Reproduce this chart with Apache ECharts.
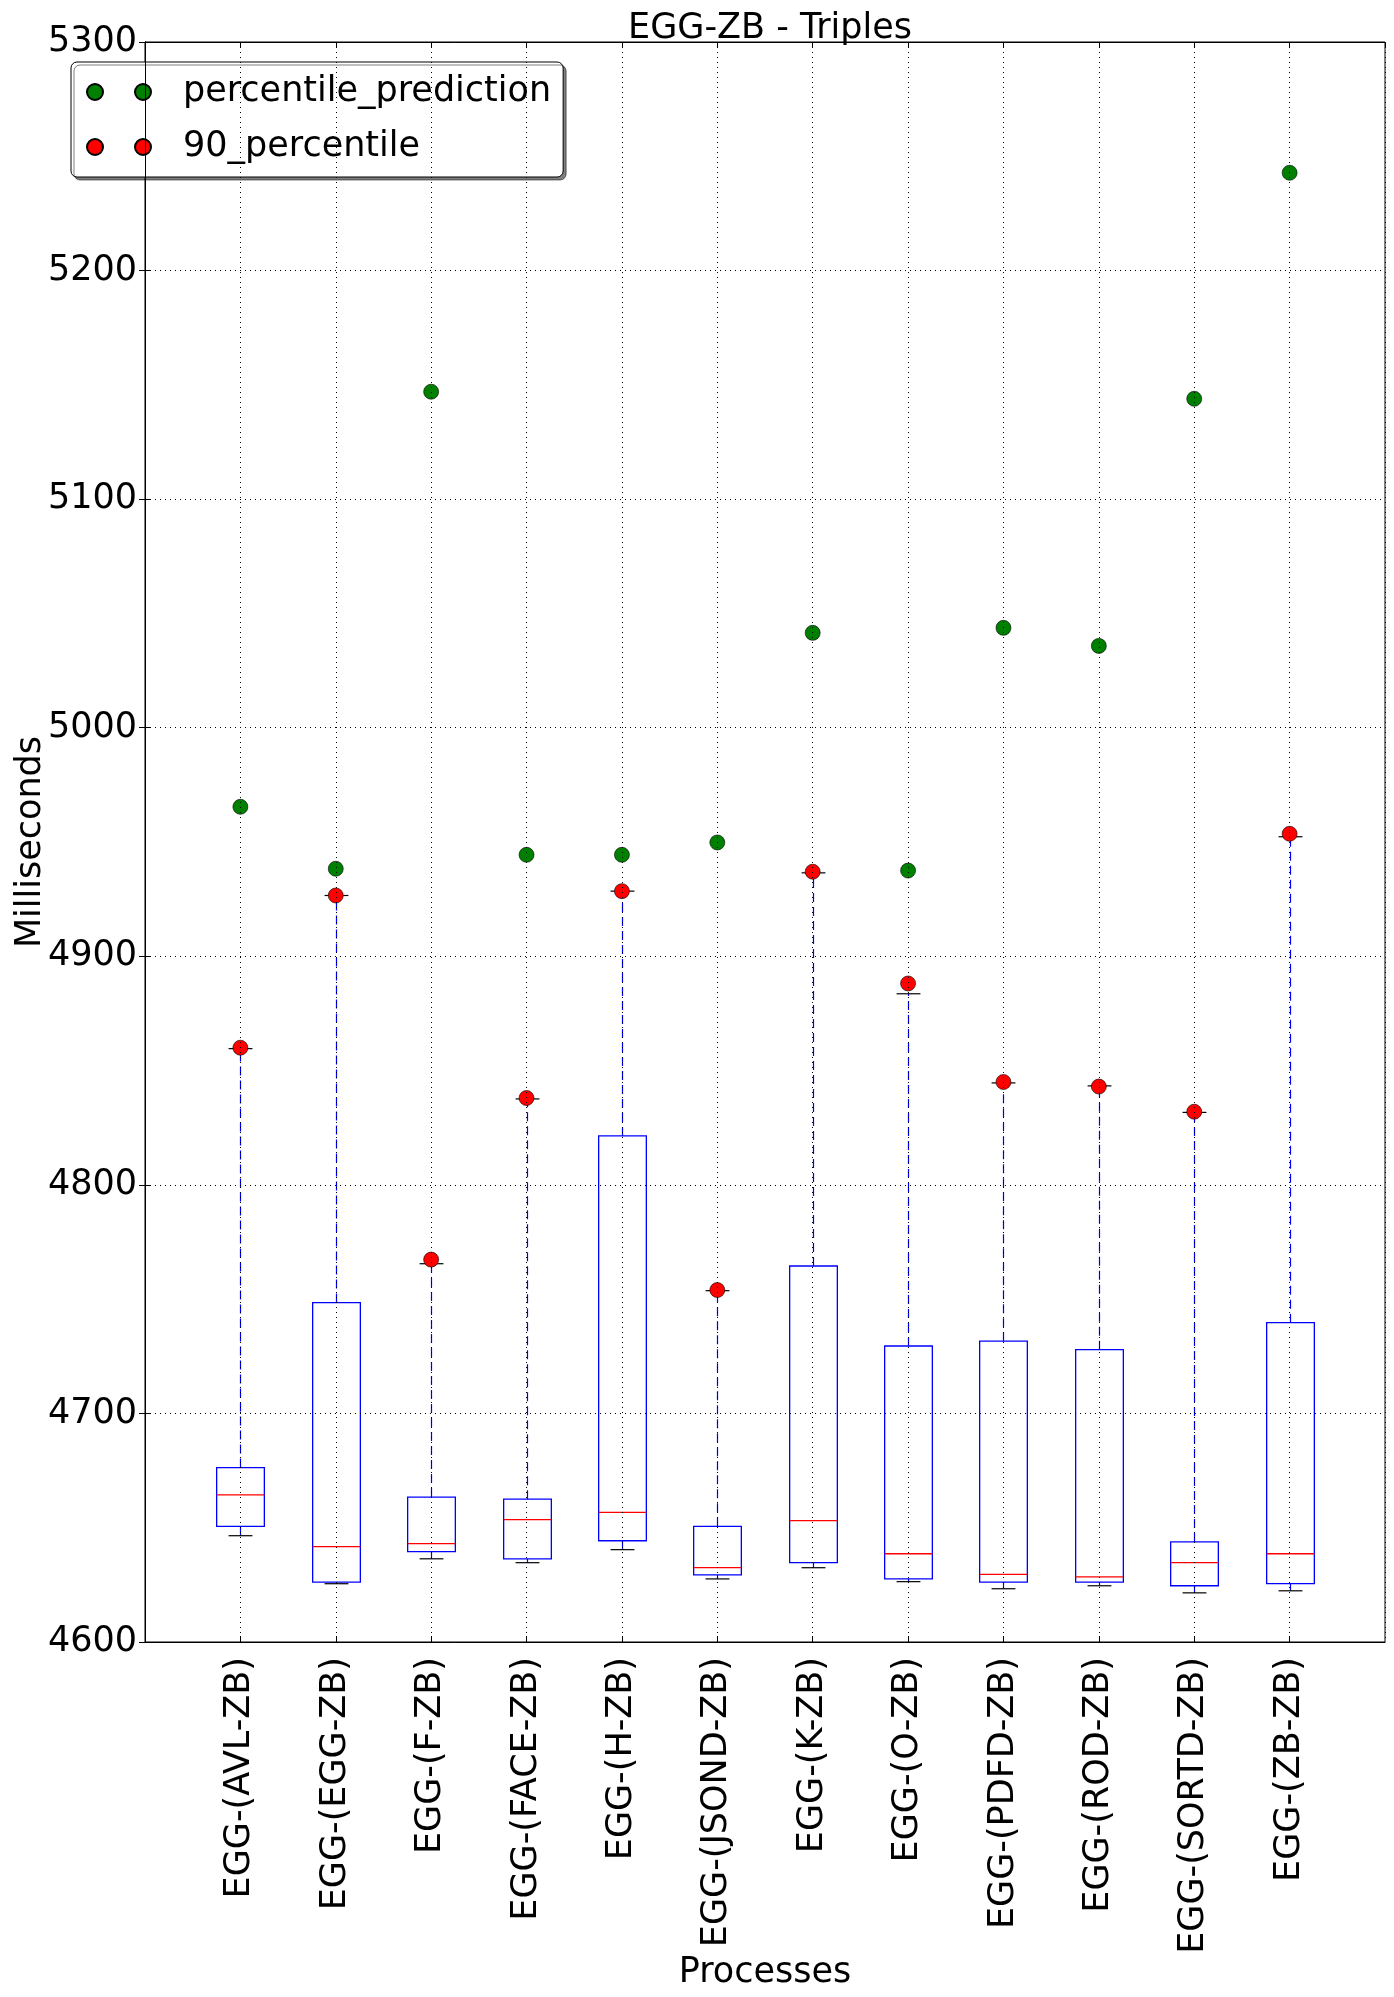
<!DOCTYPE html>
<html>
<head>
<meta charset="utf-8">
<script src="https://cdn.jsdelivr.net/npm/echarts@6/dist/echarts.min.js"></script>
<style>
html,body{margin:0;padding:0;background:#fff;}
#chart{width:1394px;height:1997px;}
</style>
</head>
<body>
<div id="chart"></div>
<script>
const categories = ['EGG-(AVL-ZB)','EGG-(EGG-ZB)','EGG-(F-ZB)','EGG-(FACE-ZB)','EGG-(H-ZB)','EGG-(JSOND-ZB)','EGG-(K-ZB)','EGG-(O-ZB)','EGG-(PDFD-ZB)','EGG-(ROD-ZB)','EGG-(SORTD-ZB)','EGG-(ZB-ZB)'];
const whiskerLow  = [4646.5, 4625.5, 4636.4, 4634.7, 4640.4, 4627.6, 4632.5, 4626.4, 4623.3, 4624.6, 4621.5, 4622.4];
const q1          = [4650.6, 4626.2, 4639.5, 4636.4, 4644.3, 4629.4, 4634.7, 4627.6, 4626.2, 4626.2, 4624.6, 4625.5];
const median      = [4664.4, 4641.7, 4643.0, 4653.5, 4656.7, 4632.5, 4653.1, 4638.6, 4629.6, 4628.5, 4634.7, 4638.6];
const q3          = [4676.3, 4748.5, 4663.4, 4662.5, 4821.4, 4650.6, 4764.5, 4729.5, 4731.6, 4727.9, 4643.8, 4739.7];
const whiskerHigh = [4859.6, 4926.6, 4765.5, 4837.6, 4928.5, 4753.7, 4936.5, 4883.6, 4844.6, 4843.3, 4831.7, 4952.3];
const percentile90 = [4860.0, 4926.6, 4767.3, 4838.0, 4928.5, 4754.0, 4937.0, 4888.1, 4845.0, 4843.0, 4832.0, 4953.6];
const prediction   = [4965.4, 4938.3, 5147.0, 4944.4, 4944.4, 4949.8, 5041.5, 4937.5, 5043.7, 5035.8, 5143.9, 5242.8];
const yTicks = {min: 4600, max: 5300, interval: 100};

const FONT = 'DejaVu Sans';
const FS = 35;
const boxData = categories.map((c, i) => [i + 1, whiskerLow[i], q1[i], median[i], q3[i], whiskerHigh[i]]);
const predData = categories.map((c, i) => [i + 1, prediction[i]]);
const p90Data = categories.map((c, i) => [i + 1, percentile90[i]]);

function renderBox(params, api) {
  const x = api.value(0);
  const lo = api.coord([x, api.value(1)]);
  const b1 = api.coord([x, api.value(2)]);
  const md = api.coord([x, api.value(3)]);
  const b3 = api.coord([x, api.value(4)]);
  const hi = api.coord([x, api.value(5)]);
  const bw = api.size([0.5, 0])[0];
  const cw = api.size([0.25, 0])[0];
  const cx = Math.round(lo[0]) + 0.5;
  const blue = '#0000ff';
  return {
    type: 'group',
    children: [
      {type: 'line', shape: {x1: cx, y1: b3[1], x2: cx, y2: hi[1]}, style: {stroke: blue, lineWidth: 1.2, lineDash: [9, 5]}},
      {type: 'line', shape: {x1: cx, y1: lo[1], x2: cx, y2: b1[1]}, style: {stroke: blue, lineWidth: 1.2, lineDash: [9, 5]}},
      {type: 'line', shape: {x1: cx - cw / 2, y1: hi[1], x2: cx + cw / 2, y2: hi[1]}, style: {stroke: '#000', lineWidth: 1.2}},
      {type: 'line', shape: {x1: cx - cw / 2, y1: lo[1], x2: cx + cw / 2, y2: lo[1]}, style: {stroke: '#000', lineWidth: 1.2}},
      {type: 'rect', shape: {x: cx - bw / 2, y: b3[1], width: bw, height: b1[1] - b3[1]}, style: {fill: 'none', stroke: blue, lineWidth: 1.3}},
      {type: 'line', shape: {x1: cx - bw / 2, y1: md[1], x2: cx + bw / 2, y2: md[1]}, style: {stroke: '#ff0000', lineWidth: 1.3}}
    ]
  };
}

const twoDots = 'path://M0,8a8,8 0 1,0 16,0a8,8 0 1,0 -16,0ZM48,8a8,8 0 1,0 16,0a8,8 0 1,0 -16,0Z';
const gridLine = {show: true, lineStyle: {color: '#000', width: 1, type: [1, 4]}};

const chart = echarts.init(document.getElementById('chart'), null, {renderer: 'canvas'});
chart.setOption({
  backgroundColor: '#fff',
  animation: false,
  textStyle: {fontFamily: FONT},
  title: {
    text: 'EGG-ZB - Triples', left: 765, textAlign: 'center', top: 6,
    textStyle: {fontFamily: FONT, fontSize: FS, fontWeight: 'normal', color: '#000'}
  },
  legend: {
    orient: 'vertical', left: 71, top: 62,
    padding: [11, 12, 11, 15], itemGap: 17,
    itemWidth: 64, itemHeight: 16,
    backgroundColor: '#fff', borderColor: '#000', borderWidth: 1, borderRadius: 6,
    shadowColor: 'rgba(0,0,0,0.5)', shadowBlur: 0, shadowOffsetX: 3, shadowOffsetY: 3,
    textStyle: {fontFamily: FONT, fontSize: FS, color: '#000', lineHeight: 38, padding: [0, 0, 0, 27]},
    data: [{name: 'percentile_prediction', icon: twoDots}, {name: '90_percentile', icon: twoDots}]
  },
  grid: {left: 145, right: 9, top: 42, bottom: 355, show: true, borderColor: '#000', borderWidth: 1, containLabel: false, outerBoundsMode: 'none'},
  xAxis: [{
    type: 'value', min: 0, max: 13, interval: 1, z: 10,
    name: 'Processes', nameLocation: 'middle', nameGap: 313, nameMoveOverlap: false,
    nameTextStyle: {fontFamily: FONT, fontSize: FS, color: '#000'},
    axisLine: {show: true, lineStyle: {color: '#000', width: 1}},
    axisTick: {show: true, inside: true, length: 6, lineStyle: {color: '#000'}},
    axisLabel: {
      rotate: 90, margin: 15, fontFamily: FONT, fontSize: FS, color: '#000',
      showMinLabel: false, showMaxLabel: false,
      formatter: v => categories[Math.round(v) - 1] || ''
    },
    splitLine: gridLine
  }, {
    type: 'value', min: 0, max: 13, interval: 1, position: 'top',
    axisLine: {show: true, lineStyle: {color: '#000', width: 1}},
    axisTick: {show: true, inside: true, length: 6, lineStyle: {color: '#000'}},
    axisLabel: {show: false}, splitLine: {show: false}
  }],
  yAxis: [{
    type: 'value', min: yTicks.min, max: yTicks.max, interval: yTicks.interval, z: 10,
    name: 'Milliseconds', nameLocation: 'middle', nameGap: 97, nameMoveOverlap: false,
    nameTextStyle: {fontFamily: FONT, fontSize: FS, color: '#000'},
    axisLine: {show: true, lineStyle: {color: '#000', width: 1}},
    axisTick: {show: true, inside: true, length: 6, lineStyle: {color: '#000'}},
    axisLabel: {margin: 8, fontFamily: FONT, fontSize: FS, color: '#000', formatter: v => String(v)},
    splitLine: gridLine
  }, {
    type: 'value', min: yTicks.min, max: yTicks.max, interval: yTicks.interval, position: 'right',
    axisLine: {show: true, lineStyle: {color: '#000', width: 1}},
    axisTick: {show: true, inside: true, length: 6, lineStyle: {color: '#000'}},
    axisLabel: {show: false}, splitLine: {show: false}
  }],
  series: [
    {
      type: 'custom', name: 'box', renderItem: renderBox, data: boxData,
      encode: {x: 0, y: [1, 2, 3, 4, 5]}, z: 2, silent: true
    },
    {
      type: 'scatter', name: 'percentile_prediction', data: predData, symbol: 'circle', symbolSize: 15, z: 5,
      itemStyle: {color: '#008000', borderColor: '#000', borderWidth: 0.6, opacity: 1}
    },
    {
      type: 'scatter', name: '90_percentile', data: p90Data, symbol: 'circle', symbolSize: 15, z: 6,
      itemStyle: {color: '#ff0000', borderColor: '#000', borderWidth: 0.6, opacity: 1}
    }
  ]
});
</script>
</body>
</html>
